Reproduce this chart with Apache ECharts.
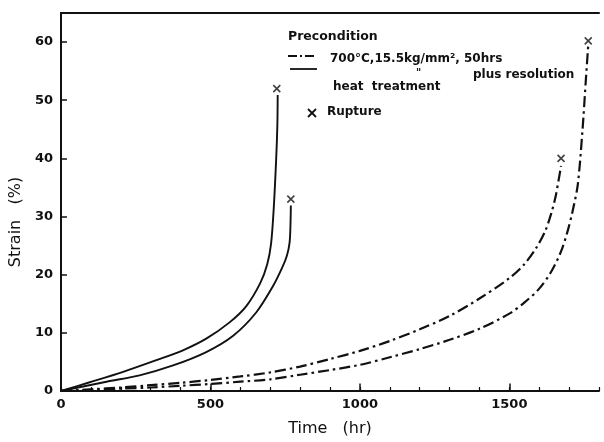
<!DOCTYPE html>
<html>
<head>
<meta charset="utf-8">
<script src="https://cdn.jsdelivr.net/npm/echarts@6/dist/echarts.min.js"></script>
<style>
html,body{margin:0;padding:0;background:#fff;}
#chart{width:604px;height:442px;}
</style>
</head>
<body>
<div id="chart"></div>
<script>
// ---- Data (Time in hr, Strain in %) ----
const solidA = [[0,0],[96,1.5],[208,3.3],[319,5.3],[408,7.0],[486,9.0],[564,11.8],[620,14.6],[667,18.6],[690,21.8],[703,25.4],[712,31.6],[720,40.0],[724,46.0],[725,50.9]];
const solidB = [[0,0],[152,1.6],[263,2.7],[375,4.4],[486,6.7],[576,9.5],[653,13.5],[709,18.0],[740,21.2],[756,23.3],[765,25.6],[768,29.0],[769,31.9]];
const dashC = [[0,0],[100,0.3],[200,0.6],[300,1.0],[400,1.4],[500,1.9],[600,2.5],[700,3.2],[800,4.2],[900,5.5],[1000,6.9],[1100,8.6],[1200,10.6],[1300,12.9],[1400,15.9],[1500,19.4],[1550,21.8],[1590,24.6],[1620,27.5],[1640,30.5],[1655,33.5],[1665,36.3],[1673,38.7]];
const dashD = [[0,0],[100,0.2],[200,0.4],[300,0.6],[400,0.9],[500,1.2],[600,1.6],[700,2.0],[800,2.8],[900,3.6],[1000,4.5],[1100,5.8],[1200,7.2],[1300,8.8],[1400,10.7],[1500,13.3],[1550,15.2],[1600,17.6],[1640,20.5],[1673,24.0],[1695,27.5],[1712,31.0],[1729,35.5],[1745,45.0],[1756,53.5],[1764,59.5]];
const ruptures = [[722,52],[769,33],[1673,40],[1764,60.2]];
const xTicks = [0, 500, 1000, 1500];
const xMajorTicks = [500, 1000, 1500];
const majorTickHeight = 1.3;
const yTicks = [0, 10, 20, 30, 40, 50, 60];

const FONT = 'DejaVu Sans';
const INK = '#111';
const DASHDOT = [11, 4, 2.5, 4];

const chart = echarts.init(document.getElementById('chart'), null, {renderer: 'canvas'});

function lineSeries(data, dashed) {
  return {
    type: 'line', data: data, xAxisIndex: 0, yAxisIndex: 0,
    showSymbol: false, smooth: 0.3,
    lineStyle: {color: INK, width: dashed ? 2.2 : 1.9, type: dashed ? DASHDOT : 'solid'},
    silent: true, animation: false
  };
}

const option = {
  backgroundColor: '#fff',
  animation: false,
  grid: {left: 60, right: 5, top: 13, bottom: 46},
  xAxis: [{
    type: 'value', min: 0, max: 1800, interval: 100,
    name: 'Time   (hr)', nameLocation: 'middle', nameGap: 30,
    nameTextStyle: {fontFamily: FONT, fontSize: 16, color: INK},
    axisLine: {show: true, onZero: false, lineStyle: {color: INK, width: 2}},
    axisTick: {show: true, inside: true, length: 4, lineStyle: {color: INK, width: 1.2}},
    axisLabel: {
      fontFamily: FONT, fontSize: 13, fontWeight: 'bold', color: INK, margin: 7,
      formatter: v => xTicks.indexOf(v) >= 0 ? String(v) : ''
    },
    splitLine: {show: false}
  }, {
    type: 'value', min: 0, max: 1800, position: 'top',
    axisLine: {show: true, onZero: false, lineStyle: {color: INK, width: 2}},
    axisTick: {show: false}, axisLabel: {show: false}, splitLine: {show: false}
  }],
  yAxis: {
    type: 'value', min: 0, max: 65, interval: 10,
    name: 'Strain   (%)', nameLocation: 'middle', nameGap: 30, nameRotate: 90,
    nameTextStyle: {fontFamily: FONT, fontSize: 16, color: INK, padding: [0, 40, 0, 0]},
    axisLine: {show: true, onZero: false, lineStyle: {color: INK, width: 2}},
    axisTick: {show: true, inside: true, length: 6, lineStyle: {color: INK, width: 1.5}},
    axisLabel: {
      fontFamily: FONT, fontSize: 13, fontWeight: 'bold', color: INK, margin: 8,
      formatter: v => yTicks.indexOf(v) >= 0 ? String(v) : ''
    },
    splitLine: {show: false}
  },
  series: [
    lineSeries(solidA, false),
    lineSeries(solidB, false),
    lineSeries(dashC, true),
    lineSeries(dashD, true),
    {
      type: 'scatter', data: ruptures, xAxisIndex: 0, yAxisIndex: 0,
      symbol: 'path://M0,0L10,10M10,0L0,10', symbolSize: 7,
      itemStyle: {color: 'rgba(0,0,0,0)', borderColor: INK, borderWidth: 1.6},
      silent: true, animation: false,
      markLine: {
        silent: true, symbol: ['none', 'none'], label: {show: false},
        lineStyle: {color: INK, width: 1.5, type: 'solid'},
        emphasis: {disabled: true},
        data: xMajorTicks.map(v => [{coord: [v, 0]}, {coord: [v, majorTickHeight]}])
      }
    }
  ],
  graphic: [
    {type: 'text', x: 288, y: 30, style: {text: 'Precondition', font: 'bold 12.5px ' + FONT, fill: INK}},
    {type: 'line', shape: {x1: 288, y1: 56, x2: 317, y2: 56}, style: {stroke: INK, lineWidth: 2, lineDash: [9, 3, 2, 3]}},
    {type: 'text', x: 330, y: 53, style: {text: '700°C,15.5kg/mm², 50hrs', font: 'bold 12px ' + FONT, fill: INK}},
    {type: 'line', shape: {x1: 290, y1: 69, x2: 317, y2: 69}, style: {stroke: INK, lineWidth: 1.8}},
    {type: 'text', x: 416, y: 68, style: {text: '"', font: 'bold 10px ' + FONT, fill: INK}},
    {type: 'text', x: 473, y: 69, style: {text: 'plus resolution', font: 'bold 12px ' + FONT, fill: INK}},
    {type: 'text', x: 333, y: 81, style: {text: 'heat  treatment', font: 'bold 12px ' + FONT, fill: INK}},
    {type: 'line', shape: {x1: 308, y1: 109, x2: 316, y2: 117}, style: {stroke: INK, lineWidth: 1.8}},
    {type: 'line', shape: {x1: 316, y1: 109, x2: 308, y2: 117}, style: {stroke: INK, lineWidth: 1.8}},
    {type: 'text', x: 327, y: 106, style: {text: 'Rupture', font: 'bold 12px ' + FONT, fill: INK}}
  ]
};
chart.setOption(option);
</script>
</body>
</html>
